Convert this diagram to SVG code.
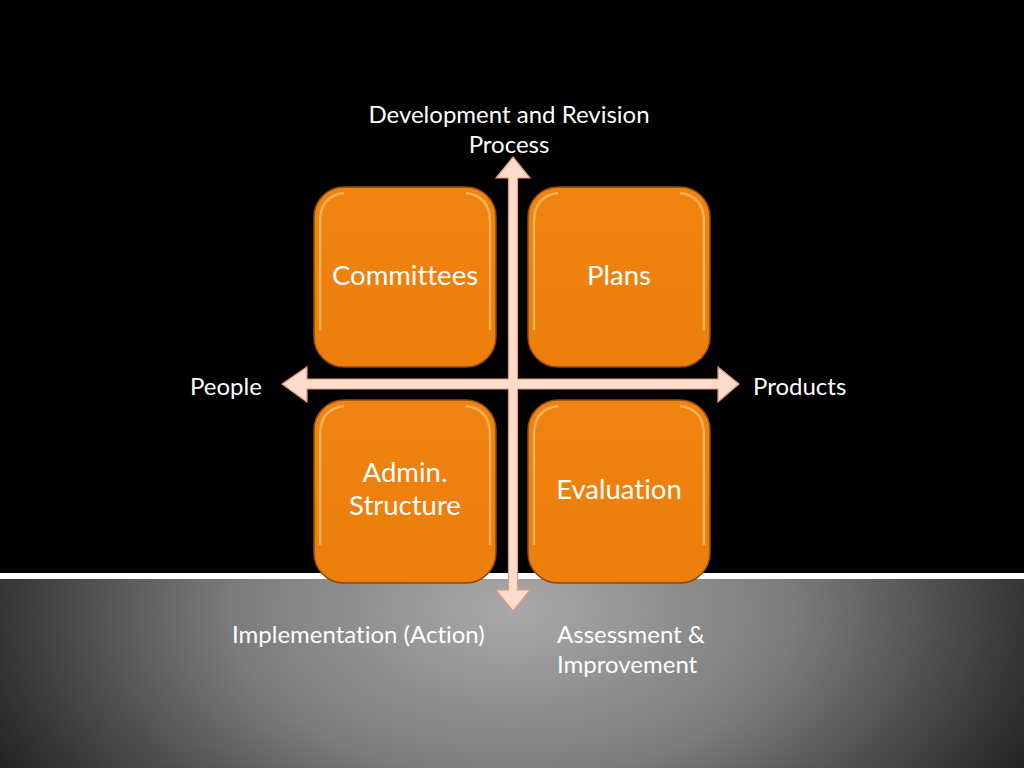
<svg xmlns="http://www.w3.org/2000/svg" width="1024" height="768" viewBox="0 0 1024 768">
<defs>
<radialGradient id="floor" cx="512" cy="610" r="620" gradientUnits="userSpaceOnUse" gradientTransform="translate(512 610) scale(1 0.6) translate(-512 -610)">
<stop offset="0" stop-color="#a9a9a9"/>
<stop offset="0.45" stop-color="#7c7c7c"/>
<stop offset="0.8" stop-color="#3a3a3a"/>
<stop offset="1" stop-color="#151515"/>
</radialGradient>
<linearGradient id="boxg" x1="0" y1="0" x2="0" y2="1">
<stop offset="0" stop-color="#f08410"/>
<stop offset="1" stop-color="#ec7e0c"/>
</linearGradient>
<style>
text{font-variant-ligatures:none}
.lbl{font-family:Lato,"Open Sans","Liberation Sans",sans-serif;fill:#ffffff;font-size:24px}
.box{fill:url(#boxg);stroke:#8a4a10;stroke-width:1.5}
.hl{fill:none;stroke:#ffc070;stroke-width:2.5;stroke-opacity:0.75}
.btxt{font-family:Lato,"Open Sans","Liberation Sans",sans-serif;fill:#ffffff;font-size:27.5px;text-anchor:middle}
.arrow{fill:#fcdccb;stroke:#e59a78;stroke-width:1.2}
</style>
</defs>
<rect x="0" y="0" width="1024" height="768" fill="#000000"/>
<rect x="0" y="579" width="1024" height="189" fill="url(#floor)"/>
<rect x="0" y="573" width="1024" height="6" fill="#ffffff"/>

<g id="node-committees">
<rect class="box" x="314" y="187" width="182" height="180" rx="30"/>
<path class="hl" d="M320 330 V222 Q320 196 344 193"/>
<path class="hl" d="M490 330 V222 Q490 196 466 193" stroke-opacity="0.45"/>
<text class="btxt" x="405" y="285">Committees</text>
</g>
<g id="node-plans">
<rect class="box" x="528" y="187" width="182" height="180" rx="30"/>
<path class="hl" d="M534 330 V222 Q534 196 558 193"/>
<path class="hl" d="M704 330 V222 Q704 196 680 193" stroke-opacity="0.45"/>
<text class="btxt" x="619" y="285">Plans</text>
</g>
<g id="node-admin">
<rect class="box" x="314" y="400" width="182" height="183" rx="30"/>
<path class="hl" d="M320 545 V435 Q320 409 344 406"/>
<path class="hl" d="M490 545 V435 Q490 409 466 406" stroke-opacity="0.45"/>
<text class="btxt" x="405" y="482">Admin.</text>
<text class="btxt" x="405" y="515">Structure</text>
</g>
<g id="node-evaluation">
<rect class="box" x="528" y="400" width="182" height="183" rx="30"/>
<path class="hl" d="M534 545 V435 Q534 409 558 406"/>
<path class="hl" d="M704 545 V435 Q704 409 680 406" stroke-opacity="0.45"/>
<text class="btxt" x="619" y="499">Evaluation</text>
</g>

<g id="connectors">
<path class="arrow" d="M513 157 L530 178 L517.5 178 L517.5 379 L718 379 L718 367 L739 384 L718 402 L718 389 L517.5 389 L517.5 590 L530 590 L513 611 L496 590 L508.5 590 L508.5 389 L307 389 L307 402 L282 384 L307 367 L307 379 L508.5 379 L508.5 178 L496 178 Z"/>
</g>

<g id="labels">
<text class="lbl" x="509" y="123" text-anchor="middle">Development and Revision</text>
<text class="lbl" x="509" y="153" text-anchor="middle">Process</text>
<text class="lbl" x="190" y="395">People</text>
<text class="lbl" x="753" y="395">Products</text>
<text class="lbl" x="232" y="643">Implementation (Action)</text>
<text class="lbl" x="557" y="643">Assessment &amp;</text>
<text class="lbl" x="557" y="673">Improvement</text>
</g>
</svg>
